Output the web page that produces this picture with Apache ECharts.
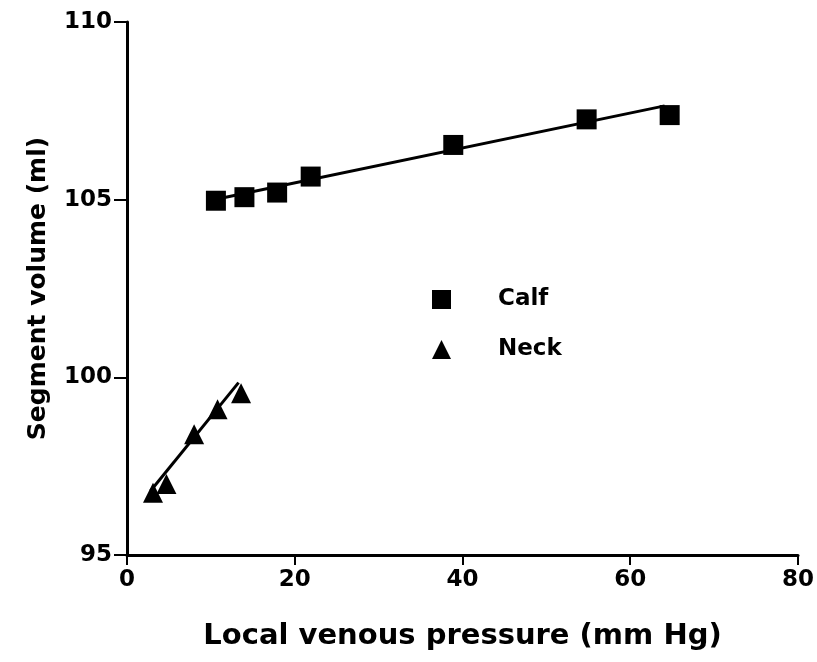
<!DOCTYPE html>
<html><head><meta charset="utf-8">
<script src="https://cdn.jsdelivr.net/npm/echarts@6/dist/echarts.min.js"></script>
<style>html,body{margin:0;padding:0;background:#fff}#c{width:817px;height:662px}</style>
</head><body><div id="c"></div>
<script>
const calfX = [10.6, 14.0, 17.9, 21.9, 38.9, 54.8, 64.7];
const calfY = [104.97, 105.07, 105.2, 105.65, 106.54, 107.26, 107.38];
const neckX = [3.1, 4.7, 8.0, 10.8, 13.6];
const neckY = [96.75, 97.0, 98.4, 99.1, 99.55];
const calfFitX = [10.2, 64.1];
const calfFitY = [104.99, 107.64];
const neckFitX = [2.8, 13.3];
const neckFitY = [96.8, 99.85];
const xTicks = [0, 20, 40, 60, 80];
const yTicks = [95, 100, 105, 110];

const zip = (a, b) => a.map((v, i) => [v, b[i]]);
const font = '"DejaVu Sans", "Liberation Sans", Arial, sans-serif';
const chart = echarts.init(document.getElementById('c'), null, {renderer: 'canvas'});
chart.setOption({
  animation: false,
  backgroundColor: '#fff',
  grid: {left: 127, right: 19, top: 22, bottom: 107},
  xAxis: {
    type: 'value', min: xTicks[0], max: xTicks[xTicks.length - 1], interval: 20,
    name: 'Local venous pressure (mm Hg)', nameLocation: 'middle', nameGap: 67,
    nameTextStyle: {fontFamily: font, fontWeight: 'bold', fontSize: 29, color: '#000'},
    axisLine: {lineStyle: {color: '#000', width: 3}},
    axisTick: {length: 10, lineStyle: {color: '#000', width: 2}},
    axisLabel: {fontFamily: font, fontWeight: 'bold', fontSize: 23, color: '#000', margin: 14},
    splitLine: {show: false}
  },
  yAxis: {
    type: 'value', min: yTicks[0], max: yTicks[yTicks.length - 1], interval: 5,
    name: 'Segment volume (ml)', nameLocation: 'middle', nameGap: 76,
    nameTextStyle: {fontFamily: font, fontWeight: 'bold', fontSize: 25, color: '#000'},
    axisLine: {lineStyle: {color: '#000', width: 3}},
    axisTick: {length: 13, lineStyle: {color: '#000', width: 2}},
    axisLabel: {fontFamily: font, fontWeight: 'bold', fontSize: 23, color: '#000', margin: 15},
    splitLine: {show: false}
  },
  legend: {
    data: [{name: 'Calf', icon: 'rect'}, {name: 'Neck', icon: 'triangle'}],
    orient: 'vertical', left: 427, top: 283, itemGap: 27,
    itemWidth: 19, itemHeight: 19,
    itemStyle: {color: '#000', opacity: 1},
    textStyle: {fontFamily: font, fontWeight: 'bold', fontSize: 23, color: '#000', padding: [0, 0, 0, 42]}
  },
  series: [
    {type: 'line', data: zip(calfFitX, calfFitY), symbol: 'none', lineStyle: {color: '#000', width: 3}, silent: true},
    {type: 'line', data: zip(neckFitX, neckFitY), symbol: 'none', lineStyle: {color: '#000', width: 3}, silent: true},
    {name: 'Calf', type: 'scatter', data: zip(calfX, calfY), symbol: 'rect', symbolSize: 20, itemStyle: {color: '#000', opacity: 1}},
    {name: 'Neck', type: 'scatter', data: zip(neckX, neckY), symbol: 'triangle', symbolSize: 20, itemStyle: {color: '#000', opacity: 1}}
  ]
});
</script></body></html>
